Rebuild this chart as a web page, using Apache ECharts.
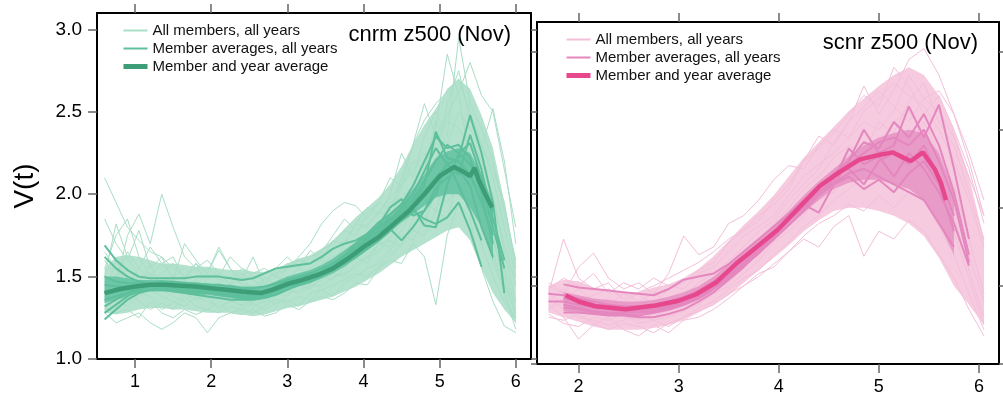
<!DOCTYPE html>
<html><head><meta charset="utf-8">
<script src="https://cdn.jsdelivr.net/npm/echarts@6/dist/echarts.min.js"></script>
<style>html,body{margin:0;padding:0;background:#fff}#c{width:1003px;height:399px}</style>
</head><body><div id="c"></div>
<script>
// ---------- tick labels ----------
const xTicksLeft = [1, 2, 3, 4, 5, 6];
const xTicksRight = [2, 3, 4, 5, 6];
const yTicks = [1.0, 1.5, 2.0, 2.5, 3.0];
const legendNames = ['All members, all years', 'Member averages, all years', 'Member and year average'];
const titleLeft = 'cnrm z500 (Nov)';
const titleRight = 'scnr z500 (Nov)';

// ---------- left panel (cnrm) ----------
const xsL = [0.6,0.75,0.9,1.05,1.2,1.35,1.5,1.65,1.8,1.95,2.1,2.25,2.4,2.55,2.7,2.85,3.0,3.15,3.3,3.45,3.6,3.75,3.9,4.05,4.2,4.35,4.5,4.65,4.8,4.95,5.1,5.25,5.4,5.55,5.7,5.85,6.0];
const bandLowL = [1.28,1.27,1.28,1.30,1.31,1.31,1.30,1.30,1.29,1.28,1.28,1.28,1.27,1.26,1.27,1.29,1.31,1.32,1.34,1.36,1.38,1.41,1.44,1.48,1.52,1.57,1.62,1.66,1.70,1.74,1.78,1.80,1.72,1.55,1.40,1.30,1.22];
const bandHighL = [1.55,1.62,1.63,1.62,1.60,1.58,1.58,1.57,1.56,1.56,1.55,1.54,1.54,1.53,1.53,1.55,1.58,1.61,1.63,1.67,1.72,1.79,1.86,1.92,1.98,2.06,2.17,2.30,2.42,2.52,2.64,2.70,2.64,2.48,2.28,1.95,1.60];
const memLowL = [1.34,1.36,1.38,1.40,1.41,1.41,1.41,1.40,1.39,1.39,1.38,1.37,1.36,1.36,1.37,1.39,1.42,1.44,1.46,1.49,1.52,1.56,1.61,1.66,1.71,1.77,1.83,1.88,1.93,1.98,2.00,2.00,1.92,1.80,1.60];
const memHighL = [1.50,1.50,1.49,1.48,1.48,1.48,1.47,1.47,1.46,1.46,1.45,1.45,1.44,1.44,1.44,1.47,1.50,1.52,1.54,1.57,1.61,1.66,1.71,1.76,1.82,1.88,1.95,2.03,2.12,2.22,2.26,2.28,2.25,2.12,1.95];
const allL1 = [2.10,1.95,1.80,1.72,1.65,1.62,1.55,1.50,1.58,1.52,1.48,1.50,1.46,1.44,1.48,1.52,1.55,1.60,1.58,1.66,1.70,1.78,1.75,1.88,1.95,2.10,2.05,2.30,2.45,2.55,2.62,2.70,2.50,2.30,2.10,1.80,1.50];
const allL2 = [1.30,1.45,1.75,1.88,1.70,2.00,1.80,1.62,1.55,1.60,1.52,1.45,1.50,1.42,1.38,1.45,1.50,1.48,1.55,1.60,1.58,1.70,1.82,1.80,1.90,1.85,2.05,2.20,2.15,2.40,2.85,2.60,2.20,2.00,1.75,1.45,1.28];
const allL3 = [1.28,1.22,1.25,1.28,1.22,1.18,1.22,1.28,1.25,1.16,1.25,1.28,1.27,1.30,1.26,1.28,1.33,1.30,1.35,1.38,1.36,1.40,1.46,1.45,1.55,1.60,1.58,1.70,1.62,1.33,1.75,1.95,1.85,1.55,1.35,1.20,1.16];
const allL4 = [1.85,1.70,1.60,1.78,1.55,1.62,1.48,1.70,1.60,1.52,1.66,1.55,1.48,1.62,1.45,1.55,1.62,1.55,1.66,1.60,1.72,1.70,1.82,1.92,1.88,2.00,2.25,2.10,2.35,2.50,2.35,2.95,2.55,2.40,2.20,1.90,1.60];
const allL5 = [1.40,1.60,1.48,1.45,1.58,1.42,1.38,1.35,1.42,1.38,1.30,1.35,1.40,1.32,1.35,1.40,1.38,1.45,1.42,1.50,1.48,1.55,1.62,1.58,1.70,1.72,1.68,1.85,1.95,1.90,2.15,2.30,2.05,1.88,1.65,1.40,1.22];
const allL6 = [1.55,1.75,1.85,1.62,1.50,1.58,1.62,1.48,1.45,1.52,1.68,1.55,1.45,1.40,1.50,1.45,1.55,1.62,1.70,1.82,1.90,1.95,1.93,1.85,1.95,1.90,2.10,2.30,2.55,2.35,2.48,2.62,2.80,2.60,2.50,2.15,1.80];
const allL7 = [1.35,1.30,1.42,1.35,1.30,1.34,1.30,1.38,1.32,1.30,1.35,1.28,1.30,1.34,1.30,1.34,1.36,1.32,1.40,1.42,1.38,1.46,1.50,1.55,1.58,1.66,1.75,1.72,1.85,2.00,1.95,2.05,1.90,1.70,1.50,1.35,1.25];
const allL8 = [1.65,1.55,1.45,1.55,1.68,1.58,1.50,1.55,1.48,1.55,1.50,1.62,1.55,1.52,1.55,1.50,1.48,1.55,1.52,1.58,1.62,1.65,1.72,1.70,1.78,1.85,1.95,2.05,2.20,2.30,2.45,2.40,2.30,2.10,1.95,1.70,1.45];
const allL9 = [1.45,1.38,1.35,1.40,1.38,1.30,1.34,1.40,1.36,1.38,1.42,1.36,1.32,1.35,1.38,1.32,1.40,1.42,1.45,1.44,1.50,1.52,1.56,1.62,1.65,1.74,1.82,1.88,1.80,2.05,2.20,2.15,2.35,2.20,2.00,1.65,1.35];
const allL10 = [1.50,1.82,1.62,1.50,1.42,1.45,1.40,1.48,1.58,1.45,1.40,1.45,1.52,1.48,1.44,1.42,1.45,1.50,1.48,1.55,1.58,1.62,1.60,1.68,1.72,1.80,1.90,1.95,2.05,2.15,2.05,2.25,2.15,2.05,1.80,1.55,1.30];
const allL11 = [1.32,1.28,1.30,1.25,1.35,1.28,1.25,1.30,1.27,1.30,1.28,1.32,1.30,1.28,1.32,1.36,1.34,1.38,1.36,1.42,1.45,1.48,1.52,1.50,1.56,1.62,1.70,1.78,1.75,1.90,1.85,2.10,2.00,1.85,1.60,1.40,1.18];
const allL12 = [1.60,1.50,1.65,1.55,1.48,1.52,1.58,1.50,1.55,1.48,1.52,1.46,1.55,1.50,1.48,1.52,1.58,1.55,1.62,1.65,1.75,1.85,1.78,1.82,1.88,1.98,2.05,2.15,2.25,2.20,2.55,2.75,2.45,2.30,2.15,1.95,1.55];
const allL13 = [1.38,1.35,1.32,1.38,1.42,1.38,1.35,1.32,1.38,1.35,1.32,1.35,1.33,1.36,1.34,1.38,1.42,1.40,1.44,1.48,1.52,1.50,1.58,1.62,1.70,1.68,1.78,1.90,2.00,2.12,2.00,2.20,2.12,1.95,1.72,1.50,1.25];
const allL14 = [1.42,1.48,1.55,1.48,1.52,1.46,1.50,1.45,1.48,1.42,1.46,1.50,1.45,1.42,1.46,1.50,1.55,1.60,1.58,1.62,1.66,1.72,1.70,1.76,1.82,1.95,1.98,2.05,2.10,2.45,2.30,2.50,2.40,2.28,2.52,2.20,1.70];
const memL1 = [1.69,1.60,1.54,1.50,1.49,1.49,1.49,1.49,1.50,1.50,1.50,1.49,1.48,1.49,1.52,1.55,1.56,1.57,1.58,1.62,1.67,1.70,1.72,1.76,1.80,1.85,1.91,1.97,2.08,2.20,2.30,2.25,2.31,2.10,1.90];
const memL2 = [1.24,1.30,1.36,1.40,1.42,1.43,1.42,1.41,1.40,1.40,1.39,1.38,1.37,1.37,1.38,1.41,1.44,1.47,1.49,1.52,1.56,1.60,1.65,1.70,1.75,1.82,1.88,1.95,2.02,2.10,2.18,2.22,2.48,2.25,1.95,1.40];
const memL3 = [1.62,1.55,1.50,1.47,1.46,1.46,1.45,1.45,1.44,1.44,1.43,1.42,1.41,1.40,1.41,1.44,1.47,1.49,1.51,1.53,1.57,1.62,1.68,1.74,1.80,1.86,1.84,1.90,1.85,1.82,1.86,1.95,1.78,1.56];
const memL4 = [1.28,1.33,1.38,1.42,1.44,1.44,1.43,1.42,1.41,1.41,1.40,1.39,1.38,1.38,1.39,1.42,1.45,1.48,1.50,1.53,1.58,1.63,1.70,1.76,1.83,1.88,1.94,2.05,2.20,2.35,2.28,2.30,2.22,2.00,1.70];
const memL5 = [1.50,1.47,1.46,1.46,1.46,1.47,1.47,1.46,1.46,1.45,1.45,1.44,1.43,1.43,1.44,1.46,1.48,1.50,1.52,1.55,1.58,1.62,1.66,1.72,1.78,1.84,1.92,2.00,2.14,2.28,2.18,2.12,2.36,2.15,1.85,1.60];
const memL6 = [1.36,1.38,1.40,1.41,1.42,1.42,1.41,1.40,1.39,1.38,1.37,1.36,1.36,1.36,1.37,1.39,1.42,1.45,1.47,1.50,1.54,1.58,1.63,1.68,1.74,1.79,1.72,1.80,1.90,2.04,2.10,2.15,2.05,1.80,1.62];
const memL7 = [1.32,1.36,1.40,1.43,1.45,1.46,1.46,1.45,1.44,1.43,1.42,1.41,1.40,1.39,1.40,1.43,1.46,1.48,1.50,1.52,1.55,1.61,1.67,1.73,1.81,1.92,1.97,1.87,1.90,2.00,2.20,2.05,1.90,1.72];
const memL8 = [1.45,1.44,1.44,1.44,1.45,1.45,1.45,1.44,1.43,1.42,1.42,1.41,1.40,1.39,1.40,1.42,1.45,1.47,1.49,1.52,1.56,1.61,1.66,1.71,1.77,1.83,1.89,1.95,2.05,2.38,2.22,2.20,2.12,1.95,1.75];
const memL9 = [1.40,1.41,1.42,1.43,1.44,1.44,1.44,1.43,1.42,1.41,1.41,1.40,1.39,1.38,1.39,1.41,1.44,1.46,1.48,1.51,1.54,1.58,1.62,1.67,1.72,1.78,1.85,1.92,1.81,1.80,2.06,2.25,2.18,2.05,1.80,1.55];
const meanXL = [0.6,0.8,1.0,1.2,1.4,1.6,1.8,2.0,2.2,2.4,2.65,2.8,3.0,3.2,3.4,3.6,3.8,4.0,4.2,4.4,4.6,4.8,5.0,5.19,5.3,5.4,5.46,5.51,5.6,5.69];
const meanYL = [1.40,1.425,1.44,1.45,1.45,1.445,1.44,1.43,1.42,1.41,1.40,1.42,1.455,1.48,1.51,1.55,1.61,1.68,1.74,1.82,1.90,2.00,2.11,2.166,2.14,2.11,2.16,2.09,2.00,1.92];

// ---------- right panel (scnr) ----------
const xsR = [1.7,1.85,2.0,2.15,2.3,2.45,2.6,2.75,2.9,3.05,3.2,3.35,3.5,3.65,3.8,3.95,4.1,4.25,4.4,4.55,4.7,4.85,5.0,5.15,5.3,5.45,5.6,5.75,5.9,6.05];
const bandLowR = [1.33,1.30,1.27,1.24,1.22,1.22,1.22,1.23,1.25,1.28,1.33,1.38,1.44,1.52,1.60,1.68,1.76,1.85,1.92,1.98,2.00,2.00,1.98,1.95,1.90,1.82,1.68,1.50,1.38,1.25];
const bandHighR = [1.50,1.54,1.53,1.49,1.47,1.46,1.46,1.49,1.51,1.55,1.61,1.69,1.79,1.89,1.98,2.08,2.20,2.32,2.42,2.52,2.62,2.70,2.78,2.85,2.90,2.85,2.72,2.50,2.20,1.80];
const memLowR = [null,1.34,1.33,1.32,1.31,1.31,1.31,1.32,1.34,1.37,1.41,1.47,1.54,1.62,1.70,1.79,1.88,1.97,2.05,2.12,2.16,2.18,2.18,2.15,2.12,2.05,1.90,1.70];
const memHighR = [null,1.46,1.44,1.42,1.41,1.40,1.40,1.41,1.43,1.46,1.50,1.56,1.64,1.72,1.80,1.89,1.98,2.08,2.17,2.25,2.33,2.40,2.45,2.48,2.50,2.48,2.35,2.10];
const allR1 = [1.45,1.80,1.55,1.48,1.52,1.40,1.45,1.38,1.48,1.52,1.60,1.65,1.78,1.85,1.92,2.05,2.15,2.30,2.46,2.40,2.55,2.78,2.60,2.75,2.95,3.02,2.85,2.60,2.30,1.95];
const allR2 = [1.38,1.30,1.16,1.25,1.30,1.22,1.18,1.25,1.20,1.28,1.30,1.35,1.42,1.50,1.58,1.62,1.72,1.80,1.75,1.88,1.95,1.69,1.85,1.80,1.92,1.85,1.70,1.55,1.35,1.18];
const allR3 = [1.50,1.45,1.62,1.71,1.55,1.48,1.52,1.45,1.58,1.82,1.70,1.75,1.90,1.95,2.05,2.18,2.27,2.25,2.40,2.50,2.45,2.62,2.70,2.80,2.72,2.65,2.50,2.30,2.05,1.75];
const allR4 = [1.35,1.40,1.38,1.32,1.36,1.30,1.28,1.32,1.35,1.38,1.42,1.48,1.52,1.62,1.70,1.80,1.88,1.98,2.05,2.10,2.22,2.18,2.30,2.25,2.40,2.55,2.35,2.15,1.80,1.45];
const allR5 = [1.42,1.35,1.30,1.28,1.25,1.28,1.32,1.28,1.30,1.34,1.38,1.45,1.50,1.58,1.66,1.78,1.85,1.95,2.10,2.20,2.35,2.30,2.42,2.55,2.62,2.48,2.30,1.95,1.60,1.30];
const allR6 = [1.48,1.55,1.50,1.58,1.45,1.52,1.48,1.55,1.50,1.48,1.58,1.62,1.72,1.82,1.88,1.95,2.08,2.20,2.28,2.35,2.45,2.55,2.50,2.62,2.85,2.70,2.62,2.45,2.20,1.95];
const allR7 = [1.30,1.28,1.32,1.26,1.22,1.26,1.24,1.20,1.26,1.30,1.34,1.38,1.45,1.50,1.56,1.64,1.72,1.82,1.90,1.95,2.02,1.98,2.08,2.00,2.10,2.05,1.88,1.70,1.45,1.22];
const allR8 = [1.40,1.48,1.42,1.38,1.42,1.35,1.40,1.45,1.40,1.45,1.48,1.55,1.62,1.70,1.80,1.90,2.00,2.12,2.20,2.32,2.40,2.35,2.55,2.48,2.68,2.80,2.55,2.40,2.10,1.80];
const allR9 = [1.45,1.38,1.35,1.40,1.32,1.38,1.35,1.30,1.35,1.40,1.45,1.50,1.58,1.65,1.74,1.82,1.92,2.02,2.12,2.18,2.28,2.42,2.32,2.40,2.30,2.45,2.20,2.00,1.70,1.40];
const allR10 = [1.36,1.42,1.48,1.40,1.38,1.45,1.40,1.36,1.42,1.44,1.52,1.58,1.66,1.75,1.85,1.92,2.05,2.15,2.25,2.42,2.55,2.65,2.75,2.65,2.55,2.70,2.75,2.60,2.35,2.05];
const allR11 = [1.32,1.26,1.24,1.30,1.28,1.32,1.26,1.28,1.24,1.30,1.36,1.40,1.48,1.55,1.60,1.70,1.78,1.88,1.95,2.05,2.12,2.20,2.18,2.28,2.20,2.35,2.10,1.85,1.55,1.25];
const allR12 = [1.52,1.46,1.40,1.44,1.48,1.42,1.46,1.50,1.55,1.60,1.65,1.72,1.80,1.86,1.95,2.02,2.12,2.30,2.38,2.48,2.60,2.72,2.65,2.90,2.78,2.60,2.72,2.50,2.25,1.90];
const memR1 = [1.45,1.44,1.42,1.40,1.38,1.37,1.37,1.38,1.40,1.43,1.47,1.53,1.60,1.68,1.76,1.85,1.94,2.03,2.12,2.20,2.28,2.35,2.42,2.45,2.40,2.50,2.30,2.05,1.65];
const memR2 = [null,1.51,1.49,1.48,1.47,1.46,1.45,1.44,1.48,1.54,1.56,1.58,1.64,1.72,1.80,1.88,1.96,2.05,2.14,2.22,2.30,2.42,2.38,2.55,2.45,2.60,2.40,2.10,1.70];
const memR3 = [null,1.33,1.33,1.32,1.31,1.31,1.30,1.30,1.32,1.35,1.40,1.46,1.54,1.62,1.72,1.82,1.92,2.02,2.10,2.16,2.22,2.25,2.20,2.15,2.10,2.05,1.90,1.75];
const memR4 = [1.40,1.40,1.38,1.36,1.35,1.34,1.34,1.35,1.37,1.40,1.44,1.50,1.57,1.65,1.74,1.83,1.92,2.02,1.97,2.15,2.30,2.50,2.35,2.40,2.65,2.45,2.66,2.25,1.80];
const memR5 = [null,1.38,1.36,1.34,1.33,1.33,1.33,1.34,1.36,1.39,1.43,1.49,1.56,1.64,1.73,1.82,1.92,2.00,2.10,2.18,2.38,2.28,2.33,2.20,2.35,2.25,2.10,1.90,1.63];
const memR6 = [null,1.42,1.40,1.38,1.37,1.36,1.36,1.37,1.39,1.42,1.46,1.52,1.59,1.67,1.75,1.84,1.93,2.03,2.13,2.22,2.25,2.15,2.30,2.35,2.28,2.40,2.20,1.95];
const memR7 = [null,1.36,1.35,1.33,1.32,1.32,1.31,1.33,1.35,1.38,1.42,1.48,1.55,1.63,1.71,1.80,1.89,1.98,2.08,2.15,2.20,2.12,2.18,2.10,2.22,2.30,2.15,1.85];
const meanXR = [1.87,2.0,2.17,2.47,2.77,3.0,3.17,3.37,3.57,3.77,3.99,4.2,4.41,4.61,4.81,5.01,5.14,5.25,5.32,5.44,5.5,5.56,5.62,5.67];
const meanYR = [1.44,1.40,1.37,1.35,1.375,1.405,1.445,1.52,1.64,1.745,1.86,2.00,2.14,2.23,2.31,2.34,2.355,2.32,2.30,2.355,2.30,2.245,2.16,2.05];

// ---------- colours ----------
const C = {
  L: {band: '#b4e2ce', all: '#a9dec6', memBand: '#6cc6a7', mem: '#5ebf9c', mean: '#3d9d77'},
  R: {band: '#f6cbe0', all: '#f3bfd9', memBand: '#e99bc8', mem: '#e487bf', mean: '#e7478d'}
};
const FONT = "'Liberation Sans', Arial, Helvetica, sans-serif";

function pairs(xs, ys) {
  const out = [];
  for (let i = 0; i < ys.length; i++) out.push(ys[i] == null ? null : [xs[i], ys[i]]);
  return out;
}
const series = [];
// envelope drawn as a polygon through the axes' own coordinate mapping
function addBand(xs, low, high, color, axi, z) {
  const rows = [];
  for (let i = 0; i < high.length; i++) {
    if (low[i] == null || high[i] == null) continue;
    rows.push([xs[i], low[i], high[i]]);
  }
  series.push({type:'custom', xAxisIndex:axi, yAxisIndex:axi, data:rows, silent:true, z:z,
    encode:{x:0, y:[1, 2]},
    renderItem:function (params, api) {
      if (params.dataIndex !== 0) return null;
      const up = rows.map(r => api.coord([r[0], r[2]]));
      const dn = rows.slice().reverse().map(r => api.coord([r[0], r[1]]));
      return {type:'polygon', shape:{points:up.concat(dn)}, style:{fill:color, stroke:null}};
    }});
}
function addPanel(xs, low, high, mlow, mhigh, alls, mems, mx, my, col, axi) {
  addBand(xs, low, high, col.band, axi, 1);
  alls.forEach(ys => series.push({type:'line', name:legendNames[0], xAxisIndex:axi, yAxisIndex:axi,
    data:pairs(xs, ys), symbol:'none', lineStyle:{width:1, color:col.all}, itemStyle:{color:col.all}, z:2}));
  addBand(xs, mlow, mhigh, col.memBand, axi, 3);
  mems.forEach(ys => series.push({type:'line', name:legendNames[1], xAxisIndex:axi, yAxisIndex:axi,
    data:pairs(xs, ys), symbol:'none', lineStyle:{width:2, color:col.mem}, itemStyle:{color:col.mem}, z:3}));
  series.push({type:'line', name:legendNames[2], xAxisIndex:axi, yAxisIndex:axi, data:pairs(mx, my),
    symbol:'none', lineStyle:{width:4.5, color:col.mean}, itemStyle:{color:col.mean}, z:4});
}
addPanel(xsL, bandLowL, bandHighL, memLowL, memHighL,
  [allL1,allL2,allL3,allL4,allL5,allL6,allL7,allL8,allL9,allL10,allL11,allL12,allL13,allL14],
  [memL1,memL2,memL3,memL4,memL5,memL6,memL7,memL8,memL9], meanXL, meanYL, C.L, 0);
addPanel(xsR, bandLowR, bandHighR, memLowR, memHighR,
  [allR1,allR2,allR3,allR4,allR5,allR6,allR7,allR8,allR9,allR10,allR11,allR12],
  [memR1,memR2,memR3,memR4,memR5,memR6,memR7], meanXR, meanYR, C.R, 2);

const line = {show:true, onZero:false, lineStyle:{color:'#000', width:2}};
function xAx(grid, pos, min, max, ticks, showLabel) {
  return {type:'value', gridIndex:grid, position:pos, min:min, max:max, axisLine:line, splitLine:{show:false},
    axisTick:{show:true, length:9, customValues:ticks, lineStyle:{color:'#666', width:1.5}},
    axisLabel:{show:showLabel, customValues:ticks, margin:14, fontSize:18, color:'#000', fontFamily:FONT}};
}
function yAx(grid, pos, min, max, showLabel, len) {
  return {type:'value', gridIndex:grid, position:pos, min:min, max:max, axisLine:line, splitLine:{show:false},
    axisTick:{show:true, length:len, customValues:yTicks, lineStyle:{color:'#666', width:1.5}},
    axisLabel:{show:showLabel, customValues:yTicks, margin:15, fontSize:19, color:'#000', fontFamily:FONT,
      formatter:v => v.toFixed(1)}};
}
const yMain = yAx(0, 'left', 1.0, 3.1, true, 9);
yMain.name = 'V(t)'; yMain.nameLocation = 'middle'; yMain.nameGap = 58;
yMain.nameTextStyle = {fontSize:28, color:'#000', fontFamily:FONT};

function legend(left, top, col) {
  return {orient:'vertical', left:left, top:top, padding:0, itemWidth:24, itemHeight:14, itemGap:3,
    textStyle:{fontSize:15, color:'#111', fontFamily:FONT}, selectedMode:false,
    data:[
      {name:legendNames[0], lineStyle:{color:col.all, width:2}, itemStyle:{color:col.all, opacity:0}},
      {name:legendNames[1], lineStyle:{color:col.mem, width:2}, itemStyle:{color:col.mem, opacity:0}},
      {name:legendNames[2], lineStyle:{color:col.mean, width:5}, itemStyle:{color:col.mean, opacity:0}}
    ]};
}

const chart = echarts.init(document.getElementById('c'), null, {renderer:'canvas'});
chart.setOption({
  animation:false,
  backgroundColor:'#fff',
  title:[
    {text:titleLeft, right:492, top:24, padding:0, textStyle:{fontSize:22, fontWeight:'normal', color:'#000', fontFamily:FONT}},
    {text:titleRight, right:25, top:32, padding:0, textStyle:{fontSize:22, fontWeight:'normal', color:'#000', fontFamily:FONT}}
  ],
  legend:[legend(121, 23, C.L), legend(564, 32, C.R)],
  grid:[
    {left:97, top:13, width:434, height:346, containLabel:false},
    {left:537, top:22, width:462, height:342, containLabel:false}
  ],
  xAxis:[
    xAx(0, 'bottom', 0.5, 6.2, xTicksLeft, true),
    xAx(0, 'top', 0.5, 6.2, xTicksLeft, false),
    xAx(1, 'bottom', 1.585, 6.2, xTicksRight, true),
    xAx(1, 'top', 1.585, 6.2, xTicksRight, false)
  ],
  yAxis:[
    yMain,
    yAx(0, 'right', 1.0, 3.1, false, 6),
    yAx(1, 'left', 1.0, 3.19, false, 6),
    yAx(1, 'right', 1.0, 3.19, false, 6)
  ],
  series:series
});
</script></body></html>
